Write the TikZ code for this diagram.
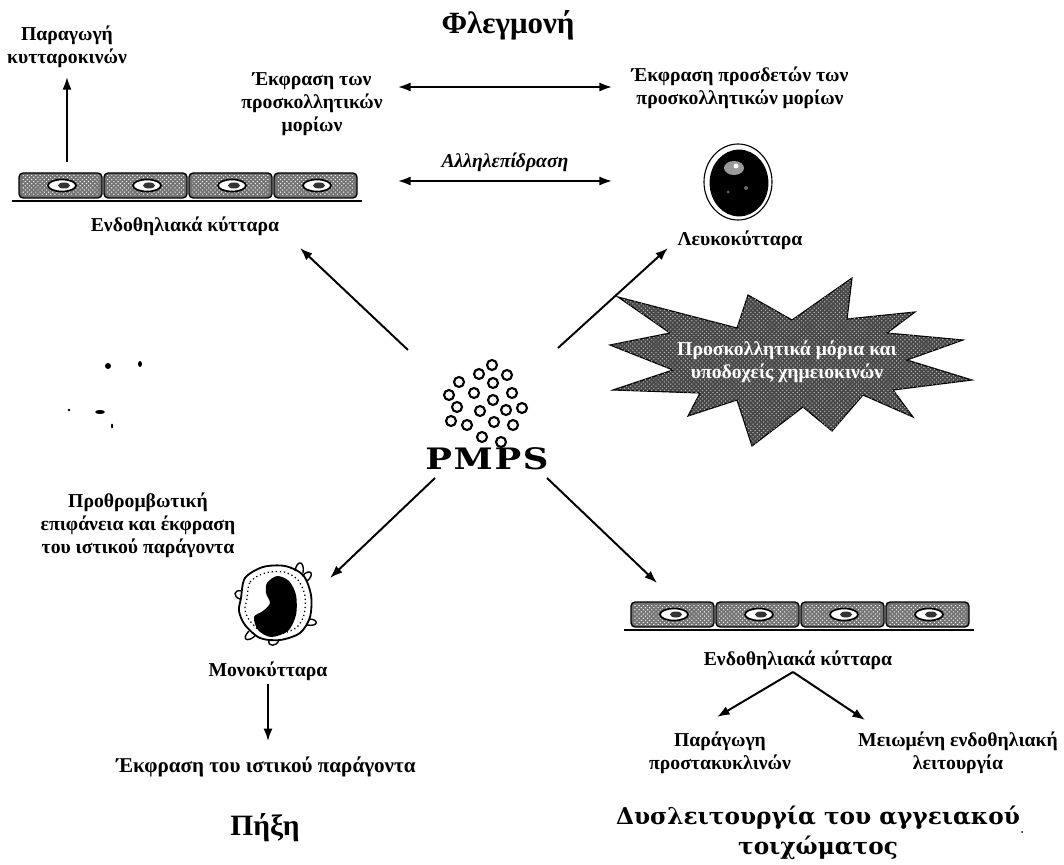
\documentclass[tikz,border=0pt]{standalone}
\usepackage{fontspec}
\setmainfont{Liberation Serif}
\newfontfamily\headfont{DejaVu Serif}
\usetikzlibrary{arrows.meta, patterns}

\begin{document}
\begin{tikzpicture}[
    x=0.025cm, y=-0.025cm,
    lbl/.style={font=\fontsize{14}{16.5}\selectfont\bfseries, align=center, inner sep=2pt},
    heading/.style={font=\fontsize{22}{26}\selectfont\bfseries, align=center, inner sep=2pt},
    bigheading/.style={font=\headfont\fontsize{16.5}{21.5}\selectfont\bfseries, align=center, inner sep=2pt},
    arr/.style={draw, -{Latex[length=9pt,width=6.5pt]}, line width=1.4pt},
    dbl/.style={draw, {Latex[length=9pt,width=6.5pt]}-{Latex[length=9pt,width=6.5pt]}, line width=1.4pt},
    cellbox/.style={draw, line width=1pt, rounded corners=3pt, fill=black!55},
    granule/.style={draw, line width=1.5pt},
    cellrow/.pic={
      \foreach \k in {0,...,3}{
        \draw[cellbox] (\k*85+1,0) rectangle (\k*85+84,25);
        \fill[pattern=crosshatch dots, pattern color=white] (\k*85+4,3) rectangle (\k*85+81,22);
        \draw[line width=1.2pt, fill=white] (\k*85+44,12.5) ellipse [x radius=14, y radius=6];
        \fill[black!80] (\k*85+46,12.5) ellipse [x radius=6, y radius=3];
      }
      \draw[line width=1.4pt] (-6,28) -- (344,28);
    }
  ]
    \fill[white] (0,0) rectangle (1064,865);
    \useasboundingbox (0,0) rectangle (1064,865);

    % headings
    \node (inflam) [heading] at (508,25) {Φλεγμονή};
    \node (coag) [heading, font=\fontsize{21}{24}\selectfont\bfseries] at (265,828) {Πήξη};
    \node (wall) [bigheading] at (818,833) {Δυσλειτουργία του αγγειακού\\τοιχώματος};

    % top left: endothelium
    \pic (endoA) at (18,173) {cellrow};
    \node (cyto) [lbl] at (67,47) {Παραγωγή\\κυτταροκινών};
    \node (endoAlbl) [lbl] at (185,226) {Ενδοθηλιακά κύτταρα};
    \node (adh) [lbl] at (312,104) {Έκφραση των\\προσκολλητικών\\μορίων};

    % top right: leukocyte
    \node (lig) [lbl] at (740,88) {Έκφραση προσδετών των\\προσκολλητικών μορίων};
    \node (inter) [lbl, font=\fontsize{14}{16.5}\selectfont\bfseries\itshape] at (505,162) {Αλληλεπίδραση};
    \begin{scope}[shift={(738,182)}]
      \draw[line width=0.8pt] (0,0) ellipse [x radius=34, y radius=38];
      \draw[line width=2pt, fill=black] (1,1) ellipse [x radius=28, y radius=32];
      \fill[black!40] (-4,-14) ellipse [x radius=10, y radius=7];
      \fill[white] (-2,-16) circle [radius=2.5];
      \fill[black!60] (8,6) circle [radius=2] (-10,10) circle [radius=1.5];
    \end{scope}
    \node (leukoLbl) [lbl] at (740,240) {Λευκοκύτταρα};

    % adhesion burst
    \fill[black!72, draw=black, line width=0.8pt,
          postaction={pattern=crosshatch dots, pattern color=white!75!black}]
      (610,345) -- (670,333) -- (618,297) -- (737,328) -- (748,295) -- (792,320)
      -- (852,278) -- (847,319) -- (915,312) -- (887,333) -- (963,340) -- (907,360)
      -- (972,380) -- (893,390) -- (913,417) -- (863,395) -- (832,431) -- (803,407)
      -- (752,446) -- (737,400) -- (688,416) -- (700,393) -- (613,390) -- (673,370) -- cycle;
    \node (burst) [lbl, text=white] at (787,362) {Προσκολλητικά μόρια και\\υποδοχείς χημειοκινών};

    % PMPS cloud
    \foreach \px/\py in {492/365, 479/374, 507/375, 459/382, 493/383, 474/393, 512/393,
                         449/395, 493/400, 457/407, 480/411, 506/410, 522/408, 451/421,
                         467/425, 494/422, 513/425, 482/437, 501/442}
      \draw[granule] (\px,\py) circle [radius=5];
    \node (pmps) [font=\headfont\fontsize{21}{24}\selectfont\bfseries, inner sep=1pt] at (487,459)
      {\scalebox{1.2}[1]{P\hspace{1pt}M\hspace{1pt}P\hspace{1pt}S}};

    % lower left: monocyte
    \node (prothr) [lbl] at (138,525) {Προθρομβωτική\\επιφάνεια και έκφραση\\του ιστικού παράγοντα};
    \begin{scope}[shift={(275,603)}]
      \draw[line width=1.3pt, fill=white] plot[smooth cycle] coordinates {(-34,-5) (-30,-25) (-12,-36) (10,-37)
        (28,-28) (36,-8) (35,14) (25,30) (5,37) (-15,35) (-30,22) (-36,8)};
      \draw[dotted, line width=0.9pt] plot[smooth cycle] coordinates {(-28,-4) (-25,-21) (-10,-30) (9,-31)
        (23,-23) (30,-7) (29,12) (21,25) (4,31) (-13,29) (-25,18) (-30,7)};
      \draw[line width=1pt] (20,-32) .. controls (22,-44) and (30,-42) .. (28,-30);
      \draw[line width=1pt] (27,-27) .. controls (36,-36) and (40,-28) .. (32,-22);
      \draw[line width=1pt] (-33,-12) .. controls (-42,-14) and (-42,-6) .. (-35,-4);
      \draw[line width=1pt] (34,16) .. controls (44,16) and (44,24) .. (32,22);
      \draw[line width=1pt] (-26,28) .. controls (-34,36) and (-28,40) .. (-20,33);
      \draw[line width=1pt] (-6,37) .. controls (-8,44) and (2,44) .. (4,37);
      \fill plot[smooth cycle] coordinates {(-8,-20) (2,-27) (14,-22) (21,-8) (21,12) (13,28)
        (-4,34) (-17,27) (-21,14) (-12,8) (-5,0) (-9,-10)};
    \end{scope}
    \node (monoLbl) [lbl] at (268,671) {Μονοκύτταρα};
    \node (tf) [lbl, font=\fontsize{15}{17}\selectfont\bfseries] at (266,767) {Έκφραση του ιστικού παράγοντα};

    % lower right: endothelium
    \pic (endoB) at (630,602) {cellrow};
    \node (endoBlbl) [lbl] at (798,660) {Ενδοθηλιακά κύτταρα};
    \node (prost) [lbl] at (720,753) {Παράγωγη\\προστακυκλινών};
    \node (dysf) [lbl] at (958,753) {Μειωμένη ενδοθηλιακή\\λειτουργία};

    % stray specks
    \fill (108,366) ellipse [x radius=3, y radius=3];
    \fill (140,364) ellipse [x radius=2, y radius=3];
    \fill (69,410) circle [radius=1.3];
    \fill (100,412) ellipse [x radius=5, y radius=2];
    \fill (112,426) ellipse [x radius=1, y radius=2.5];
    \fill (1022,832) circle [radius=1];

    % arrow ends
    \coordinate (cytoFoot) at (67,162);
    \coordinate (cytoTip) at (67,77);
    \coordinate (adhL) at (398,87);
    \coordinate (adhR) at (612,87);
    \coordinate (interL) at (398,181);
    \coordinate (interR) at (612,181);
    \coordinate (pmpsNW) at (408,350);
    \coordinate (pmpsNE) at (558,348);
    \coordinate (pmpsSW) at (435,478);
    \coordinate (pmpsSE) at (547,478);
    \coordinate (endoAtip) at (300,248);
    \coordinate (leukoTip) at (668,248);
    \coordinate (monoTip) at (330,578);
    \coordinate (endoBtip) at (657,583);
    \coordinate (branch) at (793,672);
    \coordinate (prostTip) at (717,717);
    \coordinate (dysfTip) at (865,720);

    \draw[arr] (cytoFoot) -- (cytoTip);
    \draw[dbl] (adhL) -- (adhR);
    \draw[dbl] (interL) -- (interR);
    \draw[arr] (pmpsNW) -- (endoAtip);
    \draw[arr] (pmpsNE) -- (leukoTip);
    \draw[arr] (pmpsSW) -- (monoTip);
    \draw[arr] (pmpsSE) -- (endoBtip);
    \draw[arr] (monoLbl.south) -- ([yshift=9pt]monoLbl.south |- tf.north);
    \draw[arr] (branch) -- (prostTip);
    \draw[arr] (branch) -- (dysfTip);
\end{tikzpicture}
\end{document}
